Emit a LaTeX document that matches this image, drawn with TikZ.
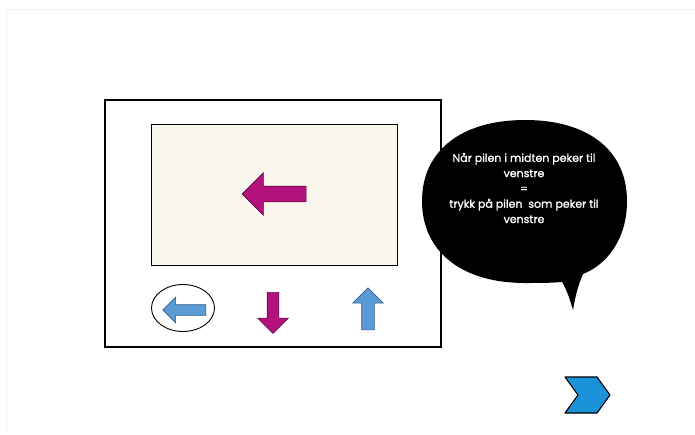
\documentclass[tikz,border=0pt]{standalone}
\usepackage{fontspec}
\newfontfamily\bubblefont{Poppins}[FakeBold=1.2]
\usetikzlibrary{shapes,shapes.arrows}

\definecolor{pilrosa}{HTML}{B3127C}
\definecolor{pilrosakant}{HTML}{5E0840}
\definecolor{pilblaa}{HTML}{5B9BD5}
\definecolor{pilblaakant}{HTML}{2C5A86}
\definecolor{skjerm}{HTML}{F8F5ED}
\definecolor{neste}{HTML}{1C93D8}

\begin{document}
\begin{tikzpicture}[x=1pt,y=-1pt]
\tikzstyle{pil}=[single arrow, line width=0.6pt, single arrow tip angle=90];
\tikzstyle{rosapil}=[pil, fill=pilrosa, draw=pilrosakant];
\tikzstyle{blaapil}=[pil, fill=pilblaa, draw=pilblaakant];

\useasboundingbox (0,0) rectangle (695,434);
\draw[black!5, line width=1pt] (6,9) -- (695,9);
\draw[black!5, line width=1pt] (6,9) -- (6,434);

% device
\draw[line width=1.4pt] (105,100) rectangle (441,347);
\draw[fill=skjerm, line width=0.8pt] (151,124) rectangle (397,265);

% arrow on the screen
\draw (278,194) node[rosapil, shape border rotate=180, inner sep=7.5pt, minimum height=64pt,
  single arrow head extend=13.5pt] (midt) {};

% buttons
\draw (187,310) node[blaapil, shape border rotate=180, inner sep=5pt, minimum height=43pt,
  single arrow head extend=7.5pt] (venstre) {};
\draw (273,310) node[rosapil, shape border rotate=270, inner sep=5.5pt, minimum height=41pt,
  single arrow head extend=9.5pt] (ned) {};
\draw (368,312) node[blaapil, shape border rotate=90, inner sep=6pt, minimum height=42pt,
  single arrow head extend=9pt] (opp) {};
\draw (183,308) node[draw, ellipse, line width=0.9pt, minimum width=63pt, minimum height=47pt] (valgt) {};

% speech bubble
\fill (422,201) .. controls (422,151) and (461,120) .. (525,120)
  .. controls (589,120) and (627,151) .. (627,201)
  .. controls (627,240) and (606,265) .. (583,274)
  .. controls (578,285) and (575,298) .. (573,310)
  .. controls (570,300) and (567,290) .. (562,282)
  .. controls (550,283) and (538,283) .. (525,283)
  .. controls (461,283) and (422,251) .. (422,201) -- cycle;
\draw (524,188) node[text=white, align=center, font=\bubblefont\fontsize{11}{15.3}\selectfont] (bobletekst)
  {N\r{a}r pilen i midten peker til\\venstre\\=\\trykk p\r{a} pilen\ \ som peker til\\venstre};

% next button
\draw[fill=neste, line width=1.1pt, line join=round] (565,377) -- (597,377) -- (610,395)
  -- (597,413) -- (565,413) -- (578,395) -- cycle;

\end{tikzpicture}
\end{document}
